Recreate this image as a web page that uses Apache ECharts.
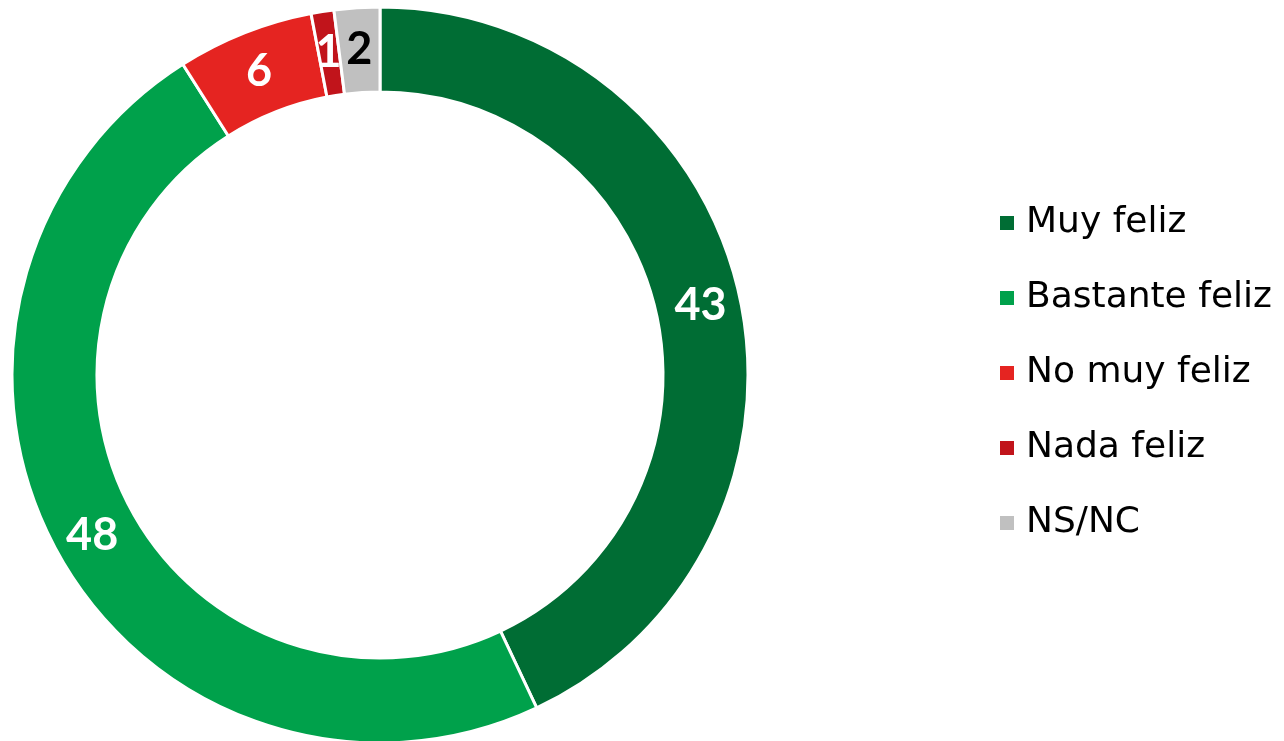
<!DOCTYPE html>
<html lang="es">
<head>
    <meta charset="utf-8">
    <title>Felicidad</title>
    <script src="https://cdn.jsdelivr.net/npm/echarts@6/dist/echarts.min.js"></script>
    <style>
        html, body { margin: 0; padding: 0; background: #fff; }
        #chart { width: 1284px; height: 741px; }
    </style>
</head>
<body>
<div id="chart"></div>
<script type="text/javascript">
    // categorias y valores (%)
    var categorias = ['Muy feliz', 'Bastante feliz', 'No muy feliz', 'Nada feliz', 'NS/NC'];
    var valores = [43, 48, 6, 1, 2];
    var colores = ['#006d34', '#00a14b', '#e52421', '#c1141b', '#c0c0c0'];
    var coloresEtiqueta = ['#fff', '#fff', '#fff', '#fff', '#000'];

    var datos = [];
    for (var i = 0; i < categorias.length; i++) {
        datos.push({
            name: categorias[i],
            value: valores[i],
            itemStyle: {color: colores[i]},
            label: {color: coloresEtiqueta[i]}
        });
    }

    var myChart = echarts.init(document.getElementById('chart'));

    var option = {
        animation: false,
        legend: {
            orient: 'vertical',
            left: 993,
            top: 200,
            icon: 'rect',
            itemWidth: 16,
            itemHeight: 16,
            itemGap: 39,
            data: categorias,
            textStyle: {
                fontFamily: 'DejaVu Sans',
                fontSize: 36,
                color: '#000',
                padding: [0, 0, 0, 6]
            }
        },
        series: [
            {
                type: 'pie',
                center: [380, 375],
                radius: [283, 368],
                startAngle: 90,
                clockwise: true,
                avoidLabelOverlap: false,
                itemStyle: {
                    borderColor: '#fff',
                    borderWidth: 3
                },
                label: {
                    show: true,
                    position: 'inside',
                    formatter: '{c}',
                    fontFamily: 'Lato',
                    fontWeight: 'bold',
                    fontSize: 45,
                    offset: [0, 2]
                },
                labelLine: {show: false},
                emphasis: {disabled: true},
                data: datos
            }
        ]
    };

    myChart.setOption(option);
</script>
</body>
</html>
